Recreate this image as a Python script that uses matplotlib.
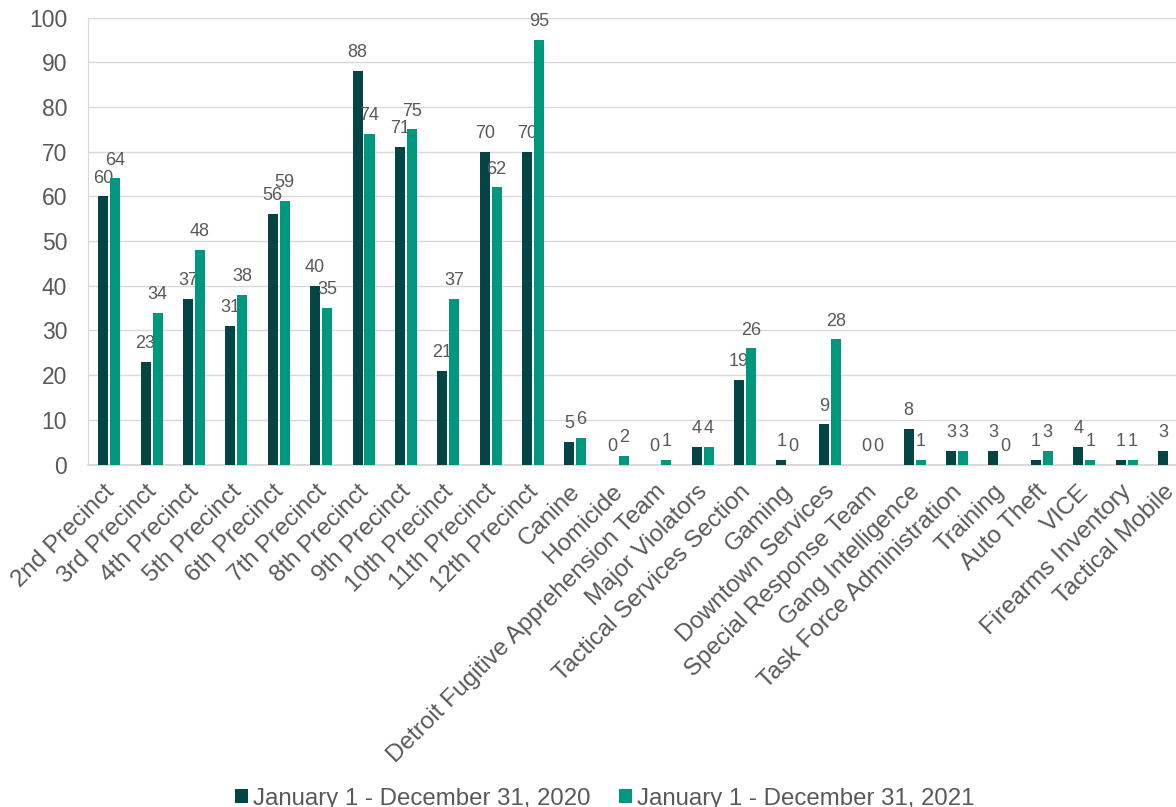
import matplotlib.pyplot as plt
import matplotlib.transforms as mtransforms
import numpy as np

categories = ["2nd Precinct", "3rd Precinct", "4th Precinct", "5th Precinct", "6th Precinct",
              "7th Precinct", "8th Precinct", "9th Precinct", "10th Precinct", "11th Precinct",
              "12th Precinct", "Canine", "Homicide", "Detroit Fugitive Apprehension Team",
              "Major Violators", "Tactical Services Section", "Gaming", "Downtown Services",
              "Special Response Team", "Gang Intelligence", "Task Force Administration",
              "Training", "Auto Theft", "VICE", "Firearms Inventory", "Tactical Mobile"]
values_2020 = [60, 23, 37, 31, 56, 40, 88, 71, 21, 70, 70, 5, 0, 0, 4, 19, 1, 9, 0, 8, 3, 3, 1, 4, 1, 3]
values_2021 = [64, 34, 48, 38, 59, 35, 74, 75, 37, 62, 95, 6, 2, 1, 4, 26, 0, 28, 0, 1, 3, 0, 3, 1, 1, None]
series_names = ["January 1 - December 31, 2020", "January 1 - December 31, 2021"]

dark = "#024544"
teal = "#00977F"
gray_text = "#595959"

plt.rcParams['font.family'] = ['Liberation Sans', 'DejaVu Sans']

fig = plt.figure(figsize=(11.76, 8.07), dpi=100)
ax = fig.add_axes([0.0748, 0.4244, 1.012 - 0.0748, 0.9783 - 0.4244])

x = np.arange(len(categories))
w = 0.236
off = 0.1415

def draw(vals, shift, color, label):
    xs = [xi + shift for xi, v in zip(x, vals) if v is not None]
    vs = [v for v in vals if v is not None]
    bars = ax.bar(xs, vs, width=w, color=color, label=label, zorder=3)
    for b, v in zip(bars, vs):
        ax.annotate(str(v), (b.get_x() + b.get_width() / 2, v), xytext=(0, 7),
                    textcoords="offset points", ha="center", va="bottom",
                    fontsize=13, color=gray_text)

draw(values_2020, -off, dark, series_names[0])
draw(values_2021, off, teal, series_names[1])

ax.set_xlim(-0.5, len(categories) - 0.5)
ax.set_ylim(0, 100)
ax.set_yticks(range(0, 101, 10))
ax.grid(axis="y", color="#D9D9D9", linewidth=1, zorder=0)
ax.tick_params(axis="both", length=0, labelcolor=gray_text)
ax.tick_params(axis="y", labelsize=16.5, pad=15)
ax.set_xticks(x)
ax.set_xticklabels(categories, rotation=45, ha="right", rotation_mode="anchor",
                   fontsize=17.5, color=gray_text)
ax.tick_params(axis="x", pad=8)

# nudge the slanted labels a little left and down
shift_tr = mtransforms.ScaledTranslation(-6 / 100, -5 / 100, fig.dpi_scale_trans)
for lbl in ax.get_xticklabels():
    lbl.set_transform(lbl.get_transform() + shift_tr)

for s in ["top", "right"]:
    ax.spines[s].set_visible(False)
ax.spines["left"].set_color("#D9D9D9")
ax.spines["bottom"].set_color("#D9D9D9")
ax.spines["bottom"].set_linewidth(1.5)

fig.legend(loc="lower center", bbox_to_anchor=(0.514, -0.03), ncol=2, frameon=False,
           fontsize=17.3, handlelength=0.55, handleheight=0.55, handletextpad=0.2,
           columnspacing=1.2, labelcolor=gray_text)

fig.savefig("out.png", dpi=100)
